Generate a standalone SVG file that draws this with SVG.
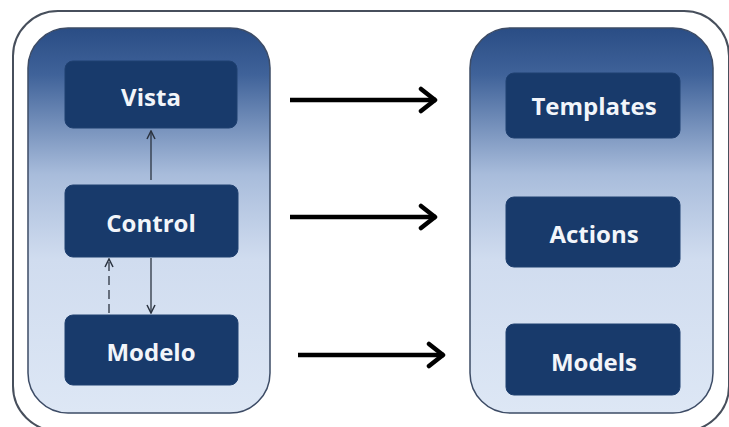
<svg xmlns="http://www.w3.org/2000/svg" width="729" height="427" viewBox="0 0 729 427">
<defs>
<linearGradient id="panelGrad" x1="0" y1="0" x2="0" y2="1">
<stop offset="0" stop-color="#2a4d85"/>
<stop offset="0.12" stop-color="#3f6299"/>
<stop offset="0.38" stop-color="#a8bcdb"/>
<stop offset="0.6" stop-color="#d0dcef"/>
<stop offset="1" stop-color="#dde7f5"/>
</linearGradient>
<marker id="thinHead" viewBox="0 0 10 10" refX="9" refY="5" markerWidth="10" markerHeight="10" markerUnits="userSpaceOnUse" orient="auto">
<path d="M1,1 L9,5 L1,9" fill="none" stroke="#2b3340" stroke-width="1.5"/>
</marker>
<marker id="boldHead" viewBox="0 0 20 28" refX="18" refY="14" markerWidth="20" markerHeight="28" markerUnits="userSpaceOnUse" orient="auto">
<path d="M3,3 L17,14 L3,25" fill="none" stroke="#000" stroke-width="4.5" stroke-linecap="round" stroke-linejoin="round"/>
</marker>
</defs>
<style>
.panel{fill:url(#panelGrad);stroke:#3d4c66;stroke-width:1.5}
.box{fill:#183a6b;stroke:#1f4070;stroke-width:1}
.lbl{font-family:"Open Sans","Liberation Sans",sans-serif;font-weight:bold;font-size:24px;fill:#f2f5fa;text-anchor:middle;dominant-baseline:central}
.thin{stroke:#2b3340;stroke-width:1.3;fill:none;marker-end:url(#thinHead)}
.bold{stroke:#000;stroke-width:4.5;fill:none;marker-end:url(#boldHead)}
</style>
<rect x="0" y="0" width="729" height="427" fill="#ffffff"/>
<g id="frame">
<rect x="13" y="11" width="716" height="420" rx="45" ry="45" fill="#ffffff" stroke="#474f5c" stroke-width="2"/>
</g>
<g id="left-panel">
<rect class="panel" x="28" y="28" width="242" height="385" rx="40" ry="40"/>
</g>
<g id="right-panel">
<rect class="panel" x="470" y="28" width="243" height="385" rx="40" ry="40"/>
</g>
<g id="vista">
<rect class="box" x="65" y="61" width="172" height="67" rx="8" ry="8"/>
<text class="lbl" x="151" y="96">Vista</text>
</g>
<g id="control">
<rect class="box" x="65" y="185" width="173" height="72" rx="8" ry="8"/>
<text class="lbl" x="151" y="222">Control</text>
</g>
<g id="modelo">
<rect class="box" x="65" y="315" width="173" height="70" rx="8" ry="8"/>
<text class="lbl" x="151" y="351">Modelo</text>
</g>
<g id="templates">
<rect class="box" x="506" y="73" width="174" height="65" rx="8" ry="8"/>
<text class="lbl" x="594" y="105">Templates</text>
</g>
<g id="actions">
<rect class="box" x="506" y="197" width="174" height="70" rx="8" ry="8"/>
<text class="lbl" x="594" y="233">Actions</text>
</g>
<g id="models">
<rect class="box" x="506" y="324" width="174" height="71" rx="8" ry="8"/>
<text class="lbl" x="594" y="361">Models</text>
</g>
<g id="connectors">
<line class="thin" x1="151" y1="180" x2="151" y2="131"/>
<line class="thin" x1="151" y1="258" x2="151" y2="313"/>
<line class="thin" x1="109" y1="313" x2="109" y2="259" stroke-dasharray="9,5"/>
<line class="bold" x1="290" y1="100" x2="436" y2="100"/>
<line class="bold" x1="290" y1="217" x2="436" y2="217"/>
<line class="bold" x1="298" y1="355" x2="444" y2="355"/>
</g>
</svg>
